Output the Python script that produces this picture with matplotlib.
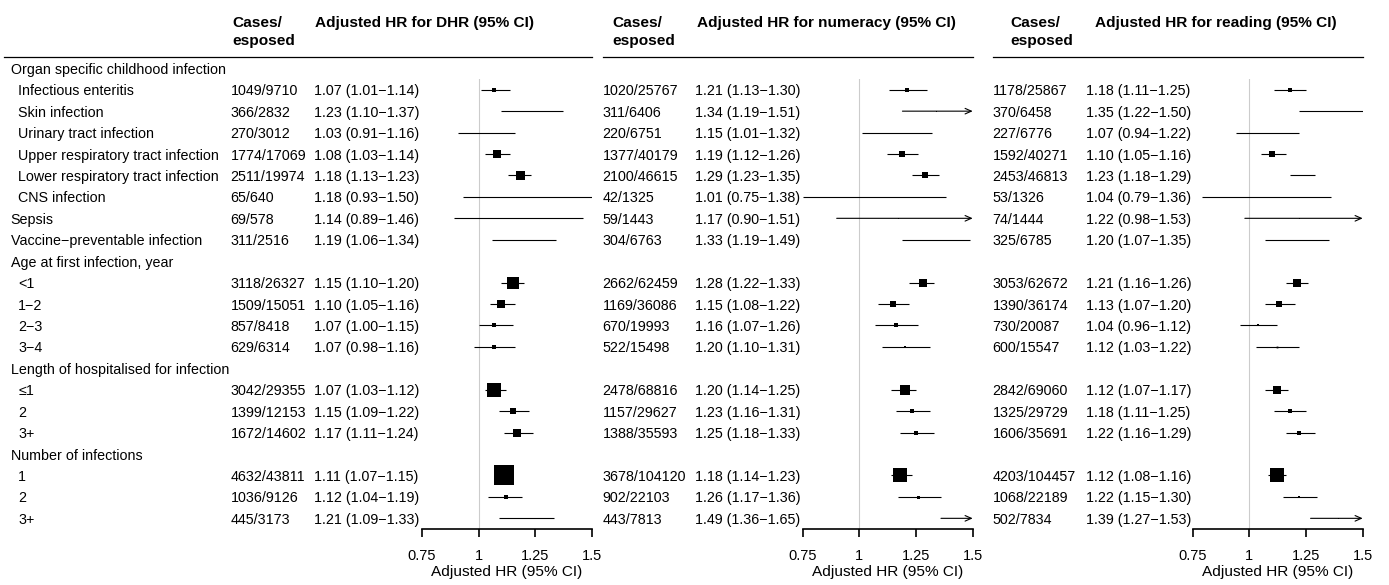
import matplotlib
matplotlib.use("Agg")
import matplotlib.pyplot as plt

plt.rcParams['font.family'] = ['Liberation Sans', 'DejaVu Sans']

# Row labels (group headers are not indented)
row_labels = ["Organ specific childhood infection", "Infectious enteritis", "Skin infection",
              "Urinary tract infection", "Upper respiratory tract infection",
              "Lower respiratory tract infection", "CNS infection", "Sepsis",
              "Vaccine\u2212preventable infection", "Age at first infection, year",
              "<1", "1\u22122", "2\u22123", "3\u22124", "Length of hospitalised for infection",
              "\u22641", "2", "3+", "Number of infections", "1", "2", "3+"]
indented = [False, True, True, True, True, True, True, False, False, False,
            True, True, True, True, False, True, True, True, False, True, True, True]
data_rows = [1, 2, 3, 4, 5, 6, 7, 8, 10, 11, 12, 13, 15, 16, 17, 19, 20, 21]

# DHR
dhr_cases = ["1049/9710", "366/2832", "270/3012", "1774/17069", "2511/19974", "65/640",
             "69/578", "311/2516", "3118/26327", "1509/15051", "857/8418", "629/6314",
             "3042/29355", "1399/12153", "1672/14602", "4632/43811", "1036/9126", "445/3173"]
dhr_hr = [1.07, 1.23, 1.03, 1.08, 1.18, 1.18, 1.14, 1.19, 1.15, 1.10, 1.07, 1.07,
          1.07, 1.15, 1.17, 1.11, 1.12, 1.21]
dhr_lo = [1.01, 1.10, 0.91, 1.03, 1.13, 0.93, 0.89, 1.06, 1.10, 1.05, 1.00, 0.98,
          1.03, 1.09, 1.11, 1.07, 1.04, 1.09]
dhr_hi = [1.14, 1.37, 1.16, 1.14, 1.23, 1.50, 1.46, 1.34, 1.20, 1.16, 1.15, 1.16,
          1.12, 1.22, 1.24, 1.15, 1.19, 1.33]
dhr_weight = [0.24, 0.05, 0.05, 0.40, 0.45, 0.04, 0.04, 0.05, 0.60, 0.37, 0.22, 0.17,
              0.66, 0.34, 0.37, 0.97, 0.24, 0.05]

# numeracy
num_cases = ["1020/25767", "311/6406", "220/6751", "1377/40179", "2100/46615", "42/1325",
             "59/1443", "304/6763", "2662/62459", "1169/36086", "670/19993", "522/15498",
             "2478/68816", "1157/29627", "1388/35593", "3678/104120", "902/22103", "443/7813"]
num_hr = [1.21, 1.34, 1.15, 1.19, 1.29, 1.01, 1.17, 1.33, 1.28, 1.15, 1.16, 1.20,
          1.20, 1.23, 1.25, 1.18, 1.26, 1.49]
num_lo = [1.13, 1.19, 1.01, 1.12, 1.23, 0.75, 0.90, 1.19, 1.22, 1.08, 1.07, 1.10,
          1.14, 1.16, 1.18, 1.14, 1.17, 1.36]
num_hi = [1.30, 1.51, 1.32, 1.26, 1.35, 1.38, 1.51, 1.49, 1.33, 1.22, 1.26, 1.31,
          1.25, 1.31, 1.33, 1.23, 1.36, 1.65]
num_weight = [0.20, 0.05, 0.04, 0.30, 0.34, 0.03, 0.03, 0.05, 0.44, 0.27, 0.17, 0.12,
              0.47, 0.24, 0.24, 0.70, 0.15, 0.03]

# reading
read_cases = ["1178/25867", "370/6458", "227/6776", "1592/40271", "2453/46813", "53/1326",
              "74/1444", "325/6785", "3053/62672", "1390/36174", "730/20087", "600/15547",
              "2842/69060", "1325/29729", "1606/35691", "4203/104457", "1068/22189", "502/7834"]
read_hr = [1.18, 1.35, 1.07, 1.10, 1.23, 1.04, 1.22, 1.20, 1.21, 1.13, 1.04, 1.12,
           1.12, 1.18, 1.22, 1.12, 1.22, 1.39]
read_lo = [1.11, 1.22, 0.94, 1.05, 1.18, 0.79, 0.98, 1.07, 1.16, 1.07, 0.96, 1.03,
           1.07, 1.11, 1.16, 1.08, 1.15, 1.27]
read_hi = [1.25, 1.50, 1.22, 1.16, 1.29, 1.36, 1.53, 1.35, 1.26, 1.20, 1.12, 1.22,
           1.17, 1.25, 1.29, 1.16, 1.30, 1.53]
read_weight = [0.20, 0.05, 0.04, 0.27, 0.04, 0.03, 0.03, 0.05, 0.40, 0.27, 0.14, 0.09,
               0.44, 0.20, 0.22, 0.67, 0.14, 0.04]

outcomes = ["DHR", "numeracy", "reading"]
xticks = [0.75, 1, 1.25, 1.5]
xtick_labels = ["0.75", "1", "1.25", "1.5"]

# layout in pixels
W, H = 1389, 585
ROW0, ROWH = 68.3, 21.43
FS = 10.3       # table text
FS_HEAD = 11.1  # bold column headers
FS_TICK = 10.5
FS_XLAB = 11.1
panels = [
    # cases x, hr text x, header cases x, header hr x, rule x0/x1, axis x0/x1
    dict(cx=230.7, tx=314.3, hcx=232, htx=315, lx0=4, lx1=592.3, ax0=421.7, ax1=592.3),
    dict(cx=602.7, tx=695.3, hcx=612.7, htx=696.7, lx0=602.7, lx1=973, ax0=802.7, ax1=972.7),
    dict(cx=992.7, tx=1085.7, hcx=1010.7, htx=1095, lx0=992.7, lx1=1363, ax0=1192.7, ax1=1362.7),
]
series = [
    (dhr_cases, dhr_hr, dhr_lo, dhr_hi, dhr_weight),
    (num_cases, num_hr, num_lo, num_hi, num_weight),
    (read_cases, read_hr, read_lo, read_hi, read_weight),
]


def row_y(i):
    return ROW0 + ROWH * i


fig = plt.figure(figsize=(W / 100, H / 100), dpi=100)
bg = fig.add_axes([0, 0, 1, 1])
bg.set_xlim(0, W)
bg.set_ylim(H, 0)
bg.axis('off')

for i, lab in enumerate(row_labels):
    bg.text(18.3 if indented[i] else 10.7, row_y(i), lab, fontsize=FS,
            va='center_baseline', ha='left')

y_top, y_bot = row_y(0.5), row_y(21.5)

for p, (cases, hr, lo, hi, wt), name in zip(panels, series, outcomes):
    bg.text(p['hcx'], 21.7, "Cases/", fontsize=FS_HEAD, fontweight='bold', va='center_baseline')
    bg.text(p['hcx'], 39.3, "esposed", fontsize=FS_HEAD, fontweight='bold', va='center_baseline')
    bg.text(p['htx'], 21.7, f"Adjusted HR for {name} (95% CI)", fontsize=FS_HEAD,
            fontweight='bold', va='center_baseline')
    bg.plot([p['lx0'], p['lx1']], [56.7, 56.7], color='black', lw=0.9)

    for r, c, h, l, u in zip(data_rows, cases, hr, lo, hi):
        bg.text(p['cx'], row_y(r), c, fontsize=FS, va='center_baseline')
        bg.text(p['tx'], row_y(r), f"{h:.2f} ({l:.2f}\u2212{u:.2f})", fontsize=FS,
                va='center_baseline')

    ax = fig.add_axes([p['ax0'] / W, (H - y_bot) / H, (p['ax1'] - p['ax0']) / W,
                       (y_bot - y_top) / H])
    ax.set_xlim(0.75, 1.5)
    ax.set_ylim(21.5, 0.5)
    ax.patch.set_alpha(0)
    for s in ['top', 'left', 'right']:
        ax.spines[s].set_visible(False)
    ax.spines['bottom'].set_linewidth(1.2)
    ax.set_yticks([])
    ax.set_xticks(xticks)
    ax.set_xticklabels(xtick_labels, fontsize=FS_TICK)
    ax.tick_params(axis='x', length=5.8, width=1.2, pad=8.5)
    ax.set_xlabel("Adjusted HR (95% CI)", fontsize=FS_XLAB, labelpad=1.5)
    ax.axvline(1, color='#cccccc', lw=0.8, zorder=0)

    for r, h, l, u, w in zip(data_rows, hr, lo, hi, wt):
        left = max(l, 0.75)
        if u > 1.5:
            ax.annotate("", xy=(1.5, r), xytext=(left, r),
                        arrowprops=dict(arrowstyle='->,head_length=0.45,head_width=0.2',
                                        color='black', lw=0.8, shrinkA=0, shrinkB=0))
        else:
            ax.plot([left, u], [r, r], color='black', lw=0.8, solid_capstyle='butt')
        ax.plot(h, r, marker='s', color='black', markersize=max(w * 20 * 0.72, 0.7),
                markeredgewidth=0, clip_on=False)

fig.savefig("out.png", dpi=100)
